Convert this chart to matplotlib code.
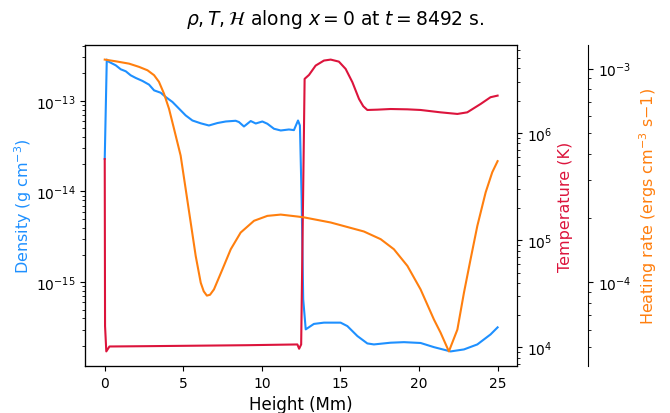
import matplotlib
matplotlib.use("Agg")
import matplotlib.pyplot as plt
import numpy as np

# height along x = 0 (Mm) and log10 of each quantity
h_rho = [0.0, 0.13, 0.27, 0.70, 1.02, 1.34, 1.65, 1.97, 2.40, 2.82, 3.14, 3.56,
         3.88, 4.31, 4.73, 5.15, 5.58, 6.11, 6.63, 7.17, 7.70, 8.33, 8.54, 8.86,
         9.29, 9.61, 10.03, 10.35, 10.77, 11.20, 11.72, 12.04, 12.30, 12.42,
         12.53, 12.63, 12.79, 13.31, 13.95, 15.01, 15.44, 16.08, 16.71, 17.13,
         18.19, 19.04, 20.10, 20.95, 22.01, 22.86, 23.71, 24.55, 25.0]
log_rho = [-13.641, -12.547, -12.572, -12.610, -12.654, -12.676, -12.720, -12.749,
           -12.782, -12.823, -12.886, -12.912, -12.959, -13.014, -13.088, -13.162,
           -13.218, -13.249, -13.273, -13.246, -13.229, -13.221, -13.235, -13.284,
           -13.224, -13.251, -13.229, -13.254, -13.309, -13.328, -13.317, -13.324,
           -13.218, -13.273, -14.083, -15.188, -15.519, -15.459, -15.445, -15.445,
           -15.483, -15.593, -15.674, -15.685, -15.666, -15.660, -15.669, -15.715,
           -15.762, -15.740, -15.685, -15.575, -15.497]

h_T = [0.0, 0.02, 0.10, 0.30, 2.72, 9.07, 12.26, 12.37, 12.50, 12.62, 12.72, 13.00,
       13.42, 13.95, 14.38, 14.90, 15.33, 15.76, 16.18, 16.45, 16.71, 17.35, 18.19,
       19.26, 20.10, 21.37, 22.44, 23.07, 23.92, 24.55, 25.0]
log_T = [5.757, 4.200, 3.963, 4.009, 4.012, 4.021, 4.028, 3.988, 4.028, 5.380, 6.505,
         6.542, 6.629, 6.676, 6.685, 6.666, 6.598, 6.474, 6.318, 6.250, 6.215, 6.218,
         6.224, 6.221, 6.215, 6.193, 6.178, 6.193, 6.271, 6.334, 6.349]

h_H = [0.0, 0.70, 1.55, 2.18, 2.72, 3.14, 3.45, 3.77, 4.09, 4.41, 4.83, 5.15,
       5.47, 5.79, 6.11, 6.30, 6.50, 6.70, 6.95, 7.49, 8.02, 8.65, 9.50, 10.35, 11.20,
       12.26, 12.68, 14.38, 16.49, 17.56, 18.40, 19.26, 20.10, 20.95, 21.37,
       21.90, 22.44, 22.86, 23.28, 23.71, 24.24, 24.66, 25.0]
log_H = [-2.958, -2.966, -2.977, -2.992, -3.008, -3.031, -3.062, -3.117, -3.188,
         -3.282, -3.407, -3.563, -3.720, -3.877, -4.002, -4.042, -4.062, -4.058,
         -4.033, -3.939, -3.845, -3.767, -3.712, -3.689, -3.683, -3.692, -3.696,
         -3.720, -3.762, -3.798, -3.845, -3.923, -4.033, -4.174, -4.235, -4.323,
         -4.221, -4.048, -3.892, -3.736, -3.579, -3.485, -3.433]

rho = 10 ** np.array(log_rho)
T = 10 ** np.array(log_T)
H = 10 ** np.array(log_H)

fig = plt.figure(figsize=(6.7, 4.14), dpi=100)
ax = fig.add_axes([0.127, 0.1135, 0.645, 0.7754])
ax2 = ax.twinx()
ax3 = ax.twinx()
ax3.spines["right"].set_position(("axes", 1.164))

ax.plot(h_rho, rho, color="dodgerblue")
ax2.plot(h_T, T, color="crimson")
ax3.plot(h_H, H, color="tab:orange")

for a in (ax, ax2, ax3):
    a.set_yscale("log")
    a.tick_params(labelsize=10)

ax.set_xlabel("Height (Mm)", fontsize=12)
ax.set_ylabel(r"Density (g cm$^{-3}$)", color="dodgerblue", fontsize=11.5, labelpad=1)
ax2.set_ylabel("Temperature (K)", color="crimson", fontsize=11.5)
ax3.set_ylabel(r"Heating rate (ergs cm$^{-3}$ s$-1$)", color="tab:orange", fontsize=11.5)

fig.suptitle(r"$\rho, T, \mathcal{H}$ along $x = 0$ at $t = 8492$ s.", fontsize=13.5, y=0.98)

fig.savefig("out.png", dpi=100)
